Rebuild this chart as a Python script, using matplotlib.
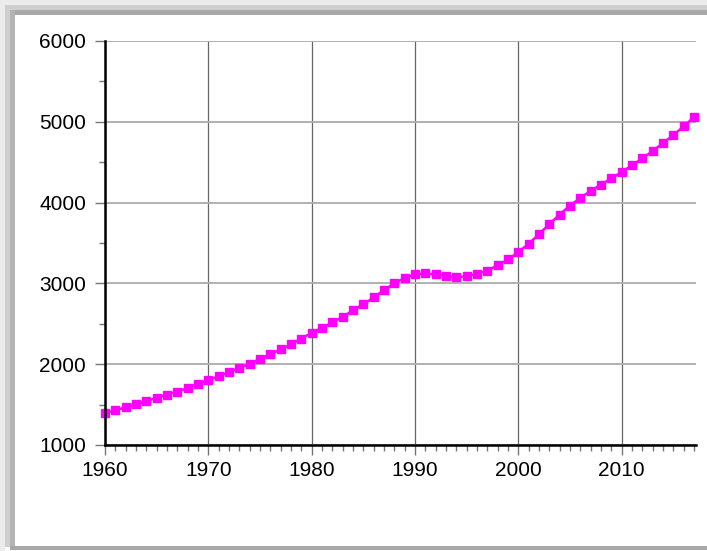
import numpy as np
import matplotlib
matplotlib.use("Agg")
import matplotlib.pyplot as plt
from matplotlib.patches import Rectangle
from matplotlib.ticker import MultipleLocator

plt.rcParams['font.family'] = ['Liberation Sans', 'DejaVu Sans']

# values
years = list(range(1960, 2018))
values = [1393, 1430, 1467, 1504, 1545, 1582, 1624, 1661, 1706, 1756,
          1800, 1851, 1901, 1954, 2004, 2066, 2124, 2182, 2244, 2318,
          2388, 2450, 2517, 2586, 2665, 2743, 2826, 2917, 3000, 3066,
          3113, 3123, 3111, 3090, 3078, 3086, 3119, 3156, 3226, 3296,
          3387, 3490, 3609, 3733, 3852, 3963, 4057, 4144, 4222, 4300,
          4378, 4460, 4547, 4637, 4736, 4835, 4942, 5057]

W, H = 707, 551
fig = plt.figure(figsize=(W / 100, H / 100), dpi=100)

def px_rect(x0, y0, x1, y1, color):
    # rectangle given in image pixels (origin top-left)
    fig.patches.append(Rectangle((x0 / W, 1 - y1 / H), (x1 - x0) / W, (y1 - y0) / H,
                                 transform=fig.transFigure, color=color, lw=0, zorder=0))

# shadowed frame around the panel
px_rect(0, 0, W, 5, '#ececec')
px_rect(0, 0, 5, H, '#ececec')
px_rect(5, 5, W, 10, '#cfcfcf')
px_rect(5, 5, 10, 547, '#cfcfcf')
px_rect(10, 10, W, 15, '#a8a8a8')
px_rect(10, 10, 15, 547, '#b4b4b4')
px_rect(10, 546, W, 550, '#a8a8a8')

ax = fig.add_axes([105 / W, 1 - 445 / H, (696 - 105) / W, (445 - 41) / H])
ax.set_facecolor('none')

ax.plot(years, values, color='#ff00ff', lw=1.8, marker='s', markersize=6,
        clip_on=False, zorder=3)

ax.set_xlim(1960, 2017.2)
ax.set_ylim(1000, 6000)

ax.xaxis.set_major_locator(MultipleLocator(10))
ax.xaxis.set_minor_locator(MultipleLocator(1))
ax.yaxis.set_major_locator(MultipleLocator(1000))
ax.yaxis.set_minor_locator(MultipleLocator(500))

ax.grid(axis='y', which='major', color='#b0b0b0', lw=1.4)
ax.grid(axis='x', which='major', color='#666666', lw=0.9)

for s in ['top', 'right']:
    ax.spines[s].set_visible(False)
for s in ['left', 'bottom']:
    ax.spines[s].set_linewidth(1.8)
    ax.spines[s].set_color('black')
    ax.spines[s].set_zorder(4)

ax.tick_params(axis='both', which='major', length=7.5, width=1.0, color='#777777',
               labelsize=15, labelcolor='black')
ax.tick_params(axis='both', which='minor', length=4.5, width=1.0, color='#777777')
ax.tick_params(axis='y', which='major', pad=6)
ax.tick_params(axis='x', which='major', pad=4)

fig.savefig('out.png', dpi=100)
